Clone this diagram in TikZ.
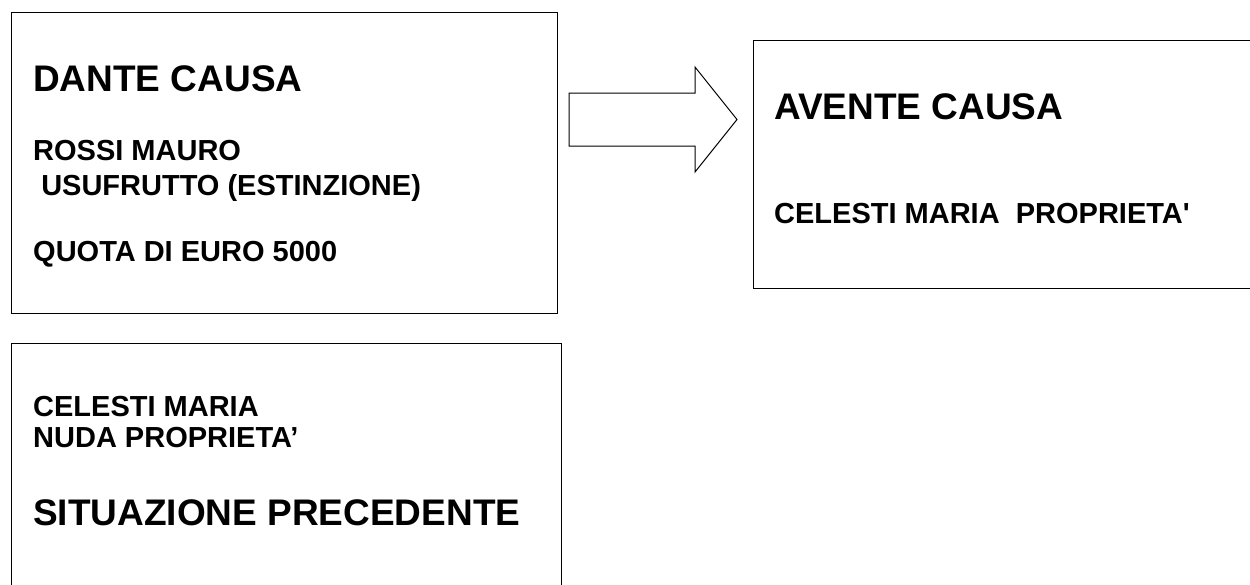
\documentclass[tikz,border=0pt]{standalone}
\usepackage{fontspec}
\setmainfont{Liberation Sans}
\usepackage{tikz}
\usetikzlibrary{positioning}

\tikzset{
  panel/.style={draw, line width=1pt, inner sep=0pt, anchor=north west},
  headtext/.style={font=\bfseries\fontsize{37}{44}\selectfont, anchor=base west, inner sep=0pt},
  bodytext/.style={font=\bfseries\fontsize{29}{35}\selectfont, anchor=base west, inner sep=0pt},
}

\begin{document}
\begin{tikzpicture}[x=1pt, y=-1pt]
        \useasboundingbox (0,0) rectangle (1250,584);
        \clip (0,0) rectangle (1250,584);

        % Dante causa
        \node[panel, minimum width=546pt, minimum height=301pt] (dante) at (11,12) {};
        \node[headtext] (dantetitle) at (33,91) {DANTE CAUSA};
        \node[bodytext] (rossi) at (33,160) {ROSSI MAURO};
        \node[bodytext] (usufrutto) at (33,195) {\ USUFRUTTO (ESTINZIONE)};
        \node[bodytext] (quota) at (33,261) {QUOTA DI EURO 5000};

        % Block arrow
        \draw[line width=1pt, line join=miter] (569,93) -- (695,93) -- (695,67) -- (737,119.5)
            -- (695,172) -- (695,146) -- (569,146) -- cycle;

        % Avente causa
        \node[panel, minimum width=530pt, minimum height=248pt] (avente) at (753,40) {};
        \node[headtext] (aventetitle) at (774,119) {AVENTE CAUSA};
        \node[bodytext] (proprieta) at (774,223) {CELESTI MARIA\ \ PROPRIETA\textquotesingle};

        % Situazione precedente
        \node[panel, minimum width=550pt, minimum height=300pt] (prima) at (11,343) {};
        \node[bodytext] (celesti) at (33,416) {CELESTI MARIA};
        \node[bodytext] (nuda) at (33,447) {NUDA PROPRIETA’};
        \node[headtext] (primatitle) at (33,525) {SITUAZIONE PRECEDENTE};
      \end{tikzpicture}
\end{document}
